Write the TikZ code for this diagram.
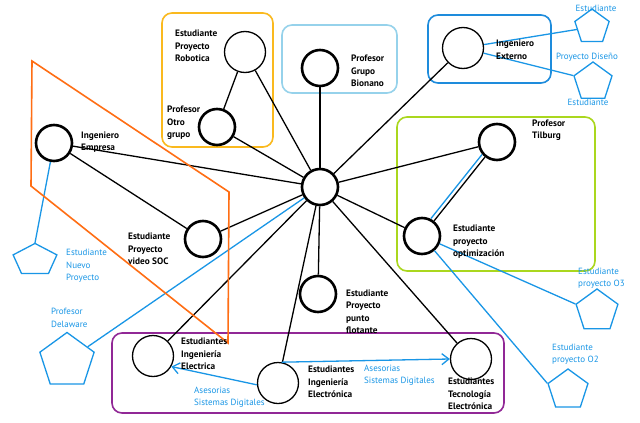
\documentclass[tikz,border=0pt]{standalone}
\usepackage{fontspec}
\setmainfont{PT Sans}
\usetikzlibrary{shapes.geometric,arrows.meta}
\definecolor{boxyellow}{RGB}{250,185,30}
\definecolor{boxlight}{RGB}{150,210,235}
\definecolor{boxblue}{RGB}{30,140,220}
\definecolor{boxgreen}{RGB}{170,215,30}
\definecolor{boxpurple}{RGB}{145,40,150}
\definecolor{orangeline}{RGB}{255,110,20}
\definecolor{bl}{RGB}{25,150,230}
\tikzset{
  thickc/.style={circle,draw=black,line width=2.6pt,fill=white,minimum size=36pt,inner sep=0pt},
  thinc/.style={circle,draw=black,line width=1.3pt,fill=white,minimum size=41pt,inner sep=0pt},
  pent/.style={regular polygon,regular polygon sides=5,draw=bl,line width=1.3pt,inner sep=0pt},
  grp/.style={rounded corners=10pt,line width=1.6pt},
  conn/.style={draw=black,line width=1.3pt},
  bconn/.style={draw=bl,line width=1.3pt},
  lab/.style={anchor=west,inner sep=0pt,align=left,font=\fontsize{9.3}{12.5}\selectfont\bfseries},
  blab/.style={anchor=west,inner sep=0pt,align=left,text=bl,font=\fontsize{9}{12.5}\selectfont},
  arr/.style={-{Straight Barb[length=7pt,width=11pt]}}
}
\begin{document}
\begin{tikzpicture}[x=1pt,y=-1pt]
\useasboundingbox[fill=white] (0,0) rectangle (640,423);
% group boxes
\draw[grp,draw=boxyellow] (162,13) rectangle (273,147);
\draw[grp,draw=boxlight] (282,25) rectangle (397,93);
\draw[grp,draw=boxblue] (428,15) rectangle (551,83);
\draw[grp,draw=boxgreen] (397,117) rectangle (595,271);
\draw[grp,draw=boxpurple] (112,333) rectangle (504,413);
% circle nodes
\node[thickc] (hub) at (320,187) {};
\node[thinc] (rob) at (245,52) {};
\node[thickc] (otro) at (217,127) {};
\node[thickc] (bio) at (320,68) {};
\node[thinc] (ext) at (463,48) {};
\node[thickc] (tilb) at (497,142) {};
\node[thickc] (opt) at (422,236) {};
\node[thickc] (emp) at (54,143) {};
\node[thickc] (soc) at (203,239) {};
\node[thickc] (pf) at (318,294) {};
\node[thinc] (ele) at (153,356) {};
\node[thinc] (elo) at (278,383) {};
\node[thinc] (tec) at (471,359) {};
% pentagons
\node[pent,minimum size=36pt] (p1) at (592,27) {};
\node[pent,minimum size=40pt] (p2) at (593,82) {};
\begin{scope}[shift={(35,260)},yscale=0.72,transform shape]
\node[pent,minimum size=46pt] (nuevo) at (0,0) {};
\end{scope}
\node[pent,minimum size=57pt] (del) at (67,361) {};
\node[pent,minimum size=44pt] (o3) at (597,311) {};
\node[pent,minimum size=42pt] (o2) at (568,390) {};
% black connectors
\draw[conn] (hub) -- (rob);
\draw[conn] (hub) -- (otro);
\draw[conn] (rob) -- (otro);
\draw[conn] (hub) -- (emp);
\draw[conn] (emp) -- (soc);
\draw[conn] (hub) -- (soc);
\draw[conn] (hub) -- (bio);
\draw[conn] (hub) -- (ext);
\draw[conn] (hub) -- (tilb);
\draw[conn] (tilb) -- (opt);
\draw[conn] (hub) -- (opt);
\draw[conn] (hub) -- (pf);
\draw[conn] (hub) -- (ele);
\draw[conn] (hub) -- (elo);
\draw[conn] (hub) -- (tec);
% blue connectors
\draw[bconn] (emp) -- (nuevo.corner 1);
\draw[bconn] (del) -- (hub);
\draw[bconn] (ext) -- (p1);
\draw[bconn] (ext) -- (p2.corner 2);
\draw[bconn,transform canvas={xshift=-3pt,yshift=2.5pt}] (tilb) -- (opt);
\draw[bconn] (opt) -- (o3.corner 2);
\draw[bconn] (opt) -- (o2.corner 2);
\draw[bconn,arr] (elo.185) -- (ele.-30);
\draw[bconn,arr] (elo.80) -- (tec.west);
% orange polygon
\draw[orangeline,line width=1.6pt] (32,61) -- (229,192) -- (228,343) -- (31,186) -- cycle;
% black labels
\node[lab] (trob) at (175,46) {Estudiante\\Proyecto\\Robotica};
\node[lab] (totro) at (167,123) {Profesor\\Otro\\grupo};
\node[lab] (tbio) at (351,71) {Profesor\\Grupo\\Bionano};
\node[lab] (text) at (496,50) {Ingeniero\\Externo};
\node[lab] (temp) at (81,142) {Ingeniero\\Empresa};
\node[lab] (ttilb) at (532,130) {Profesor\\Tilburg};
\node[lab] (topt) at (453,242) {Estudiante\\proyecto\\optimización};
\node[lab] (tsoc) at (128,249) {Estudiante\\Proyecto\\video SOC};
\node[lab] (tpf) at (346,312) {Estudiante\\Proyecto\\punto\\flotante};
\node[lab] (tele) at (181,354) {Estudiantes\\Ingeniería\\Electrica};
\node[lab] (telo) at (308,382) {Estudiantes\\Ingeniería\\Electrónica};
\node[lab] (ttec) at (448,394) {Estudiantes\\Tecnología\\Electrónica};
% blue labels
\node[blab,anchor=center] (tp1) at (596,8) {Estudiante};
\node[blab,anchor=center] (tpd) at (587,57) {Proyecto Diseño};
\node[blab,anchor=center] (tp2) at (588,102) {Estudiante};
\node[blab] (tnuevo) at (66,266) {Estudiante\\Nuevo\\Proyecto};
\node[blab] (tdel) at (51,318) {Profesor\\Delaware};
\node[blab] (to3) at (578,278) {Estudiante\\proyecto O3};
\node[blab] (to2) at (552,354) {Estudiante\\proyecto O2};
\node[blab] (tas1) at (194,397) {Asesorias\\Sistemas Digitales};
\node[blab] (tas2) at (364,375) {Asesorias\\Sistemas Digitales};
\end{tikzpicture}
\end{document}
